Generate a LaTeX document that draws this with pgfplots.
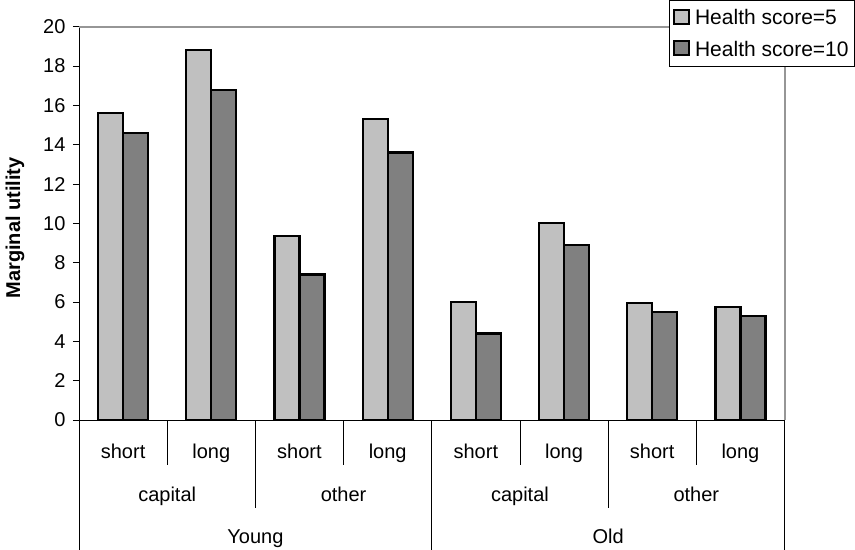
\documentclass[border=0pt]{standalone}
\usepackage{fontspec}
\setmainfont{Liberation Sans}
\usepackage{pgfplots}
\pgfplotsset{compat=1.18}
\newcommand{\f}{\fontsize{20bp}{24bp}\selectfont}
\newcommand{\lf}{\fontsize{21bp}{24bp}\selectfont}
\definecolor{lightbar}{RGB}{192,192,192}
\definecolor{darkbar}{RGB}{128,128,128}
\definecolor{framegray}{RGB}{150,150,150}
\begin{document}
\begin{tikzpicture}
\path[use as bounding box] (0,0) rectangle (855bp,550bp);
\node[rotate=90, font=\f\bfseries] at (15bp,322bp) {Marginal utility};
\begin{axis}[
  at={(79bp,130bp)}, anchor=south west,
  scale only axis, width=705.5bp, height=393.3bp,
  xmin=-0.5, xmax=7.5, ymin=0, ymax=20,
  clip=false,
  ybar=0pt, bar width=25bp,
  axis x line*=bottom, axis y line*=left,
  axis line style={-, black, line width=0.9bp},
  xtick=\empty,
  ytick={0,2,...,20},
  tick align=outside, major tick length=6bp,
  ytick style={black, line width=0.9bp},
  yticklabel style={font=\f, xshift=-4bp},
  /pgf/number format/assume math mode=true,
  legend style={at={(1.0999,1.0679)}, anchor=north east, draw=black, line width=0.8bp,
    font=\lf, inner xsep=4bp, inner ysep=7bp, row sep=11bp, fill=white},
  legend cell align=left,
  legend image code/.code={\draw[#1, line width=2bp] (0bp,-6bp) rectangle (15bp,8bp);
    \path[draw=none, fill=none] (0bp,0bp) -- (19bp,0bp);},
]
\draw[framegray, line width=2bp] (rel axis cs:0,1) -- (rel axis cs:1,1) -- (rel axis cs:1,0);
\addplot[fill=lightbar, draw=black, line width=2.2bp] coordinates {(0,15.6) (1,18.8) (2,9.35) (3,15.3) (4,6.0) (5,10.0) (6,5.96) (7,5.76)};
\addplot[fill=darkbar, draw=black, line width=2.2bp] coordinates {(0,14.6) (1,16.8) (2,7.4) (3,13.6) (4,4.4) (5,8.9) (6,5.5) (7,5.3)};
\legend{Health score=5\hspace{6bp}, Health score=10\hspace{6bp}}
% dividers
\draw[black, line width=0.8bp] (axis cs:0.5,0) -- ([yshift=-45bp]axis cs:0.5,0);
\draw[black, line width=0.8bp] (axis cs:2.5,0) -- ([yshift=-45bp]axis cs:2.5,0);
\draw[black, line width=0.8bp] (axis cs:4.5,0) -- ([yshift=-45bp]axis cs:4.5,0);
\draw[black, line width=0.8bp] (axis cs:6.5,0) -- ([yshift=-45bp]axis cs:6.5,0);
\draw[black, line width=0.8bp] (axis cs:1.5,0) -- ([yshift=-88bp]axis cs:1.5,0);
\draw[black, line width=0.8bp] (axis cs:5.5,0) -- ([yshift=-88bp]axis cs:5.5,0);
\draw[black, line width=0.8bp] (axis cs:-0.5,0) -- ([yshift=-130bp]axis cs:-0.5,0);
\draw[black, line width=0.8bp] (axis cs:3.5,0) -- ([yshift=-130bp]axis cs:3.5,0);
\draw[black, line width=0.8bp] (axis cs:7.5,0) -- ([yshift=-130bp]axis cs:7.5,0);
% labels
\node[font=\f, anchor=base, yshift=-38bp] at (axis cs:0,0) {short};
\node[font=\f, anchor=base, yshift=-38bp] at (axis cs:1,0) {long};
\node[font=\f, anchor=base, yshift=-38bp] at (axis cs:2,0) {short};
\node[font=\f, anchor=base, yshift=-38bp] at (axis cs:3,0) {long};
\node[font=\f, anchor=base, yshift=-38bp] at (axis cs:4,0) {short};
\node[font=\f, anchor=base, yshift=-38bp] at (axis cs:5,0) {long};
\node[font=\f, anchor=base, yshift=-38bp] at (axis cs:6,0) {short};
\node[font=\f, anchor=base, yshift=-38bp] at (axis cs:7,0) {long};
\node[font=\f, anchor=base, yshift=-81bp] at (axis cs:0.5,0) {capital};
\node[font=\f, anchor=base, yshift=-81bp] at (axis cs:2.5,0) {other};
\node[font=\f, anchor=base, yshift=-81bp] at (axis cs:4.5,0) {capital};
\node[font=\f, anchor=base, yshift=-81bp] at (axis cs:6.5,0) {other};
\node[font=\f, anchor=base, yshift=-123bp] at (axis cs:1.5,0) {Young};
\node[font=\f, anchor=base, yshift=-123bp] at (axis cs:5.5,0) {Old};
\end{axis}
\end{tikzpicture}
\end{document}
